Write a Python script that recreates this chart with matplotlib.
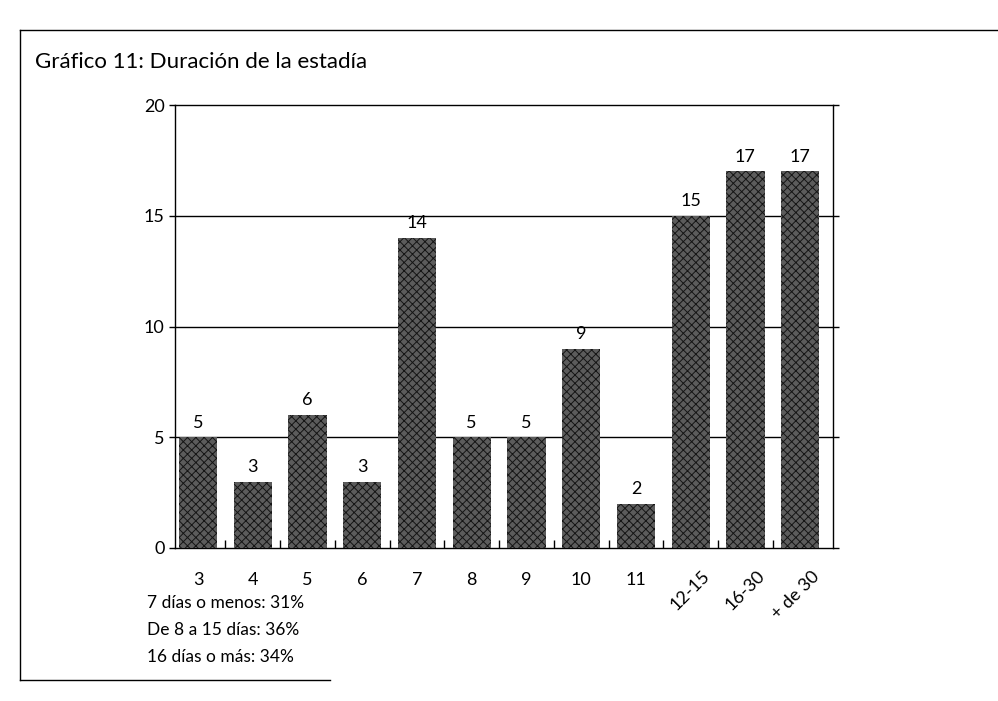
import matplotlib.pyplot as plt
from matplotlib.lines import Line2D

# data
categories = ['3', '4', '5', '6', '7', '8', '9', '10', '11', '12-15', '16-30', '+ de 30']
values = [5, 3, 6, 3, 14, 5, 5, 9, 2, 15, 17, 17]
y_ticks = [0, 5, 10, 15, 20]
notes = ['7 días o menos: 31%', 'De 8 a 15 días: 36%', '16 días o más: 34%']

plt.rcParams['font.family'] = ['Lato', 'DejaVu Sans']
plt.rcParams['hatch.linewidth'] = 0.7

fig = plt.figure(figsize=(9.98, 7.01), dpi=100)
W, H = 998, 701

# axes placed in pixel terms: left 175, right 833, top 105, bottom 548
ax = fig.add_axes([175 / W, 1 - 548 / H, (833 - 175) / W, (548 - 105) / H])

x = range(len(categories))
ax.bar(x, values, width=0.7, color='#5c5c5c', edgecolor='#151515',
       hatch='xxxx', linewidth=0, zorder=3)

for xi, v in zip(x, values):
    ax.text(xi, v + 0.3, str(v), ha='center', va='bottom', fontsize=13, zorder=4)

for yv in y_ticks[1:-1]:
    ax.axhline(yv, color='black', lw=1.0, zorder=1)

ax.set_xlim(-0.42, 11.6)
ax.set_ylim(0, 20)
ax.set_yticks(y_ticks)
ax.tick_params(axis='y', direction='out', length=4, labelsize=13, right=True,
               width=1)
ax.set_xticks([i + 0.5 for i in range(len(categories) - 1)], minor=True)
ax.set_xticks(list(x))
ax.set_xticklabels([])
ax.tick_params(axis='x', which='major', length=0)
ax.tick_params(axis='x', which='minor', direction='in', length=6, width=1)
for s in ax.spines.values():
    s.set_linewidth(1.0)

# x labels: plain ones flat, the ranges rotated
for xi, lab in zip(x, categories):
    if '-' in lab or '+' in lab:
        ax.text(xi + 0.2, -0.9, lab, rotation=45, ha='right', va='top',
                fontsize=13, rotation_mode='anchor')
    else:
        ax.text(xi, -1.1, lab, ha='center', va='top', fontsize=13)

fig.text(35 / W, 1 - 62 / H, 'Gráfico 11: Duración de la estadía',
         fontsize=16, va='center', ha='left')

for i, n in enumerate(notes):
    fig.text(147 / W, 1 - (603 + i * 27) / H, n, fontsize=12.5, va='center', ha='left')

# partial frame round the figure
fig.add_artist(Line2D([20 / W, 1.0], [1 - 30 / H, 1 - 30 / H], color='black', lw=1.0))
fig.add_artist(Line2D([20 / W, 20 / W], [1 - 30 / H, 1 - 680 / H], color='black', lw=1.0))
fig.add_artist(Line2D([20 / W, 330 / W], [1 - 680 / H, 1 - 680 / H], color='black', lw=1.0))

fig.savefig('out.png', dpi=100)
